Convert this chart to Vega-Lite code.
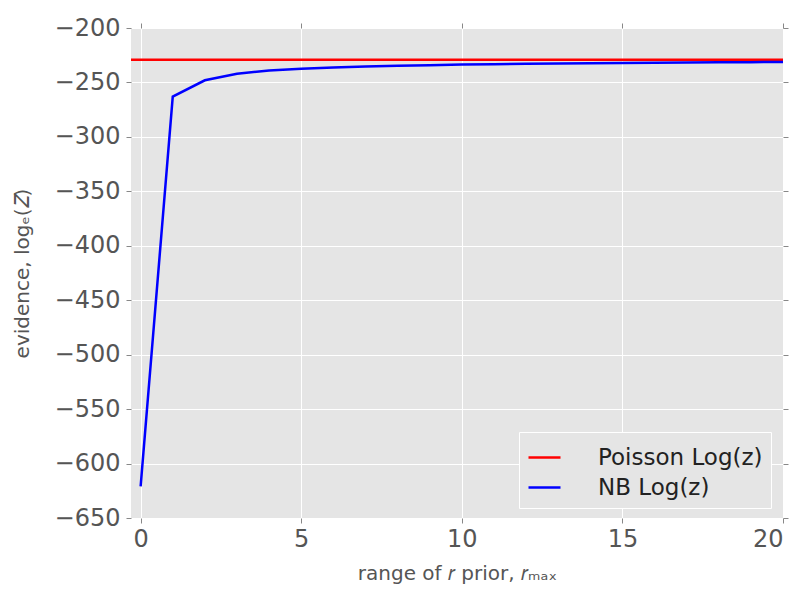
{
  "$schema": "https://vega.github.io/schema/vega-lite/v6.json",
  "width": 652,
  "height": 490,
  "autosize": {"type": "none"},
  "padding": {"left": 131, "top": 28, "right": 17, "bottom": 72},
  "background": "white",
  "config": {
    "view": {"fill": "#E5E5E5", "stroke": null},
    "font": "DejaVu Sans",
    "axis": {
      "domain": false,
      "gridColor": "#FFFFFF",
      "gridWidth": 1,
      "gridOpacity": 1,
      "tickColor": "#888888",
      "tickSize": 5,
      "labelFontSize": 24,
      "labelColor": "#555555",
      "labelFont": "DejaVu Sans",
      "titleFont": "DejaVu Sans",
      "titleFontSize": 20,
      "titleFontWeight": "normal",
      "titleColor": "#555555"
    }
  },
  "datasets": {
    "series": [
      {"x": -0.3, "y": -229.2, "series": "Poisson Log(z)"},
      {"x": 20, "y": -229.2, "series": "Poisson Log(z)"},
      {"x": 0, "y": -621, "series": "NB Log(z)"},
      {"x": 1, "y": -263, "series": "NB Log(z)"},
      {"x": 2, "y": -248, "series": "NB Log(z)"},
      {"x": 3, "y": -242, "series": "NB Log(z)"},
      {"x": 4, "y": -239, "series": "NB Log(z)"},
      {"x": 5, "y": -237.5, "series": "NB Log(z)"},
      {"x": 6, "y": -236.3, "series": "NB Log(z)"},
      {"x": 7, "y": -235.4, "series": "NB Log(z)"},
      {"x": 8, "y": -234.7, "series": "NB Log(z)"},
      {"x": 9, "y": -234.1, "series": "NB Log(z)"},
      {"x": 10, "y": -233.6, "series": "NB Log(z)"},
      {"x": 11, "y": -233.2, "series": "NB Log(z)"},
      {"x": 12, "y": -232.9, "series": "NB Log(z)"},
      {"x": 13, "y": -232.6, "series": "NB Log(z)"},
      {"x": 14, "y": -232.3, "series": "NB Log(z)"},
      {"x": 15, "y": -232.1, "series": "NB Log(z)"},
      {"x": 16, "y": -231.9, "series": "NB Log(z)"},
      {"x": 17, "y": -231.7, "series": "NB Log(z)"},
      {"x": 18, "y": -231.5, "series": "NB Log(z)"},
      {"x": 19, "y": -231.4, "series": "NB Log(z)"},
      {"x": 20, "y": -231.2, "series": "NB Log(z)"}
    ]
  },
  "data": {"name": "series"},
  "layer": [
    {
      "mark": {"type": "line", "strokeWidth": 2.5, "clip": true},
      "encoding": {
        "x": {
          "field": "x", "type": "quantitative",
          "scale": {"domain": [-0.3, 20], "nice": false, "zero": false},
          "axis": {"values": [0, 5, 10, 15, 20], "title": "range of 𝑟 prior, 𝑟ₘₐₓ", "labelPadding": 4, "titlePadding": 12}
        },
        "y": {
          "field": "y", "type": "quantitative",
          "scale": {"domain": [-650, -200], "nice": false, "zero": false},
          "axis": {"values": [-650, -600, -550, -500, -450, -400, -350, -300, -250, -200], "title": "evidence, logₑ(𝑍)", "labelPadding": 6, "titlePadding": 22}
        },
        "color": {
          "field": "series", "type": "nominal",
          "scale": {"domain": ["Poisson Log(z)", "NB Log(z)"], "range": ["#FF0000", "#0000FF"]},
          "legend": {
            "title": null,
            "orient": "none",
            "legendX": 388,
            "legendY": 404,
            "fillColor": "#E5E5E5",
            "strokeColor": "#FFFFFF",
            "padding": 8,
            "symbolType": "stroke",
            "symbolSize": 1024,
            "symbolStrokeWidth": 2.5,
            "labelFontSize": 23,
            "labelColor": "#222222",
            "labelOffset": 36,
            "labelLimit": 300,
            "rowPadding": -3
          }
        }
      }
    },
    {
      "mark": {"type": "point", "opacity": 0},
      "encoding": {
        "x": {"field": "x", "type": "quantitative", "axis": {"orient": "top", "values": [0, 5, 10, 15, 20], "labels": false, "grid": false, "title": null}},
        "y": {"field": "y", "type": "quantitative", "axis": {"orient": "right", "values": [-650, -600, -550, -500, -450, -400, -350, -300, -250, -200], "labels": false, "grid": false, "title": null}}
      }
    }
  ],
  "resolve": {"axis": {"x": "independent", "y": "independent"}}
}
